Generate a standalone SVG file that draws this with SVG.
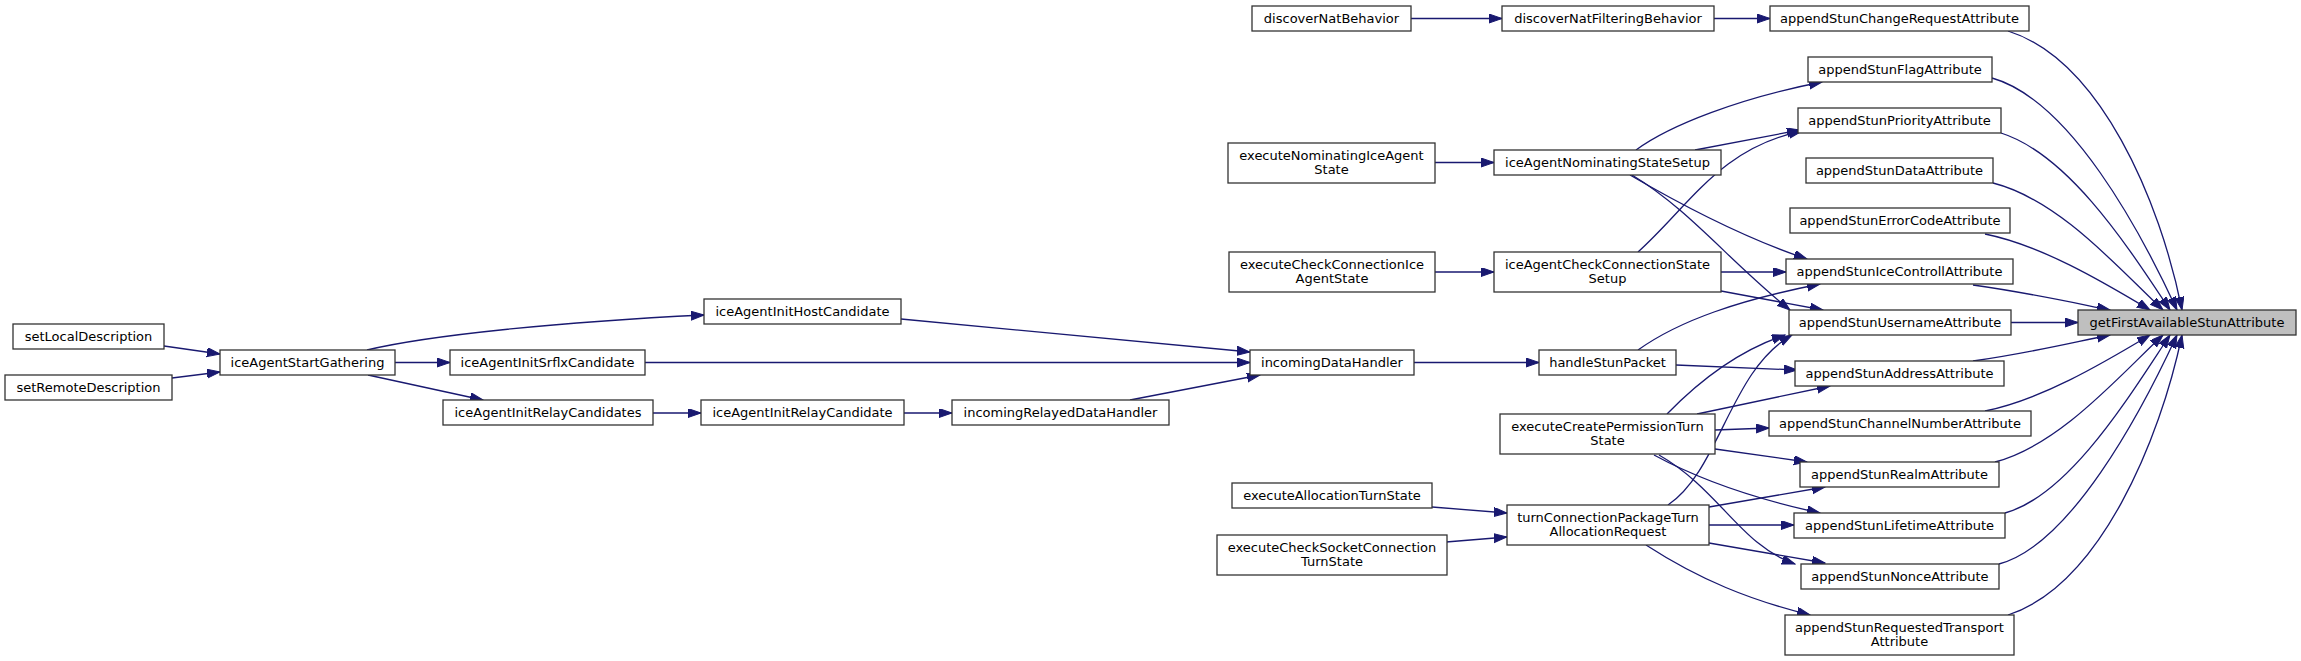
<svg xmlns="http://www.w3.org/2000/svg" width="2301" height="661" viewBox="0 0 2301 661">
<style>
.n rect{fill:#fff;stroke:#333;stroke-width:1.3}
.root rect{fill:#bfbfbf}
.n text{font-family:"DejaVu Sans","Liberation Sans",sans-serif;font-size:13px;fill:#000;text-anchor:middle}
.e path{fill:none;stroke:#191970;stroke-width:1.3;marker-end:url(#ah)}
</style>
<defs>
<marker id="ah" markerUnits="userSpaceOnUse" markerWidth="14" markerHeight="10" refX="13" refY="4.5" orient="auto" viewBox="0 0 14 10">
<path d="M0,0 L13,4.5 L0,9 z" fill="#191970" stroke="#191970" stroke-width="1"/>
</marker>
</defs>
<rect width="2301" height="661" fill="#fff"/>
<g class="e" id="edges">
<path d="M164,346 L220,354"/>
<path d="M172,378 L220,372"/>
<path d="M367,350 C430,335 560,322 704,315"/>
<path d="M395,362.5 L450,362.5"/>
<path d="M368,375 L483,400"/>
<path d="M901,319 L1250,352"/>
<path d="M645,362.5 L1250,362.5"/>
<path d="M653,413 L701,413"/>
<path d="M904,413 L952,413"/>
<path d="M1130,400 L1260,375"/>
<path d="M1414,362.5 L1539,362.5"/>
<path d="M1411,18.5 L1502,18.5"/>
<path d="M1714,18.5 L1770,18.5"/>
<path d="M1435,162.5 L1494,162.5"/>
<path d="M1435,272 L1494,272"/>
<path d="M1636,150 C1670,125 1740,98 1822,82"/>
<path d="M1695,150 L1800,130"/>
<path d="M1638,252 C1690,205 1720,148 1802,131"/>
<path d="M1630,175 C1690,210 1750,240 1807,259"/>
<path d="M1632,175 C1690,210 1730,262 1790,310"/>
<path d="M1721,272 L1786,272"/>
<path d="M1721,291 L1823,310"/>
<path d="M1638,350 C1680,320 1740,300 1820,284"/>
<path d="M1676,365 L1797,370"/>
<path d="M1667,414 C1700,380 1740,350 1785,335"/>
<path d="M1697,414 L1830,386"/>
<path d="M1715,430 L1769,428"/>
<path d="M1715,449 L1807,462"/>
<path d="M1654,455 C1700,480 1760,500 1820,513"/>
<path d="M1659,455 C1720,490 1740,545 1795,564"/>
<path d="M1432,507 L1507,513"/>
<path d="M1446,542 L1507,537"/>
<path d="M1668,505 C1720,470 1730,370 1792,335"/>
<path d="M1709,507 L1825,487"/>
<path d="M1709,525 L1794,525"/>
<path d="M1709,543 L1825,563"/>
<path d="M1646,545 C1700,580 1750,600 1810,615"/>
<path d="M2008,31 C2100,60 2160,200 2182,310"/>
<path d="M1992,78 C2070,100 2140,230 2177,310"/>
<path d="M2001,133 C2070,155 2130,250 2170,310"/>
<path d="M1993,183 C2060,200 2120,270 2163,310"/>
<path d="M1985,234 C2040,245 2100,280 2150,310"/>
<path d="M1973,285 C2030,293 2070,302 2110,310"/>
<path d="M2011,322.5 L2078,322.5"/>
<path d="M1973,361 C2030,353 2070,343 2110,335"/>
<path d="M1985,411 C2040,400 2100,365 2150,335"/>
<path d="M1995,462 C2060,445 2120,375 2163,335"/>
<path d="M2005,513 C2070,495 2130,395 2170,335"/>
<path d="M1999,564 C2070,545 2140,415 2177,335"/>
<path d="M2008,615 C2100,585 2160,440 2182,335"/>
</g>
<g class="n" id="setLocalDescription"><rect x="13" y="324" width="151" height="25"/><text x="88.5" y="341">setLocalDescription</text></g>
<g class="n" id="setRemoteDescription"><rect x="5" y="375" width="167" height="25"/><text x="88.5" y="392">setRemoteDescription</text></g>
<g class="n" id="iceAgentStartGathering"><rect x="220" y="350" width="175" height="25"/><text x="307.5" y="367">iceAgentStartGathering</text></g>
<g class="n" id="iceAgentInitHostCandidate"><rect x="704" y="299" width="197" height="25"/><text x="802.5" y="316">iceAgentInitHostCandidate</text></g>
<g class="n" id="iceAgentInitSrflxCandidate"><rect x="450" y="350" width="195" height="25"/><text x="547.5" y="367">iceAgentInitSrflxCandidate</text></g>
<g class="n" id="iceAgentInitRelayCandidates"><rect x="443" y="400" width="210" height="25"/><text x="548" y="417">iceAgentInitRelayCandidates</text></g>
<g class="n" id="iceAgentInitRelayCandidate"><rect x="701" y="400" width="203" height="25"/><text x="802.5" y="417">iceAgentInitRelayCandidate</text></g>
<g class="n" id="incomingRelayedDataHandler"><rect x="952" y="400" width="217" height="25"/><text x="1060.5" y="417">incomingRelayedDataHandler</text></g>
<g class="n" id="incomingDataHandler"><rect x="1250" y="350" width="164" height="25"/><text x="1332" y="367">incomingDataHandler</text></g>
<g class="n" id="handleStunPacket"><rect x="1539" y="350" width="137" height="25"/><text x="1607.5" y="367">handleStunPacket</text></g>
<g class="n" id="discoverNatBehavior"><rect x="1252" y="6" width="159" height="25"/><text x="1331.5" y="23">discoverNatBehavior</text></g>
<g class="n" id="discoverNatFilteringBehavior"><rect x="1502" y="6" width="212" height="25"/><text x="1608" y="23">discoverNatFilteringBehavior</text></g>
<g class="n" id="executeNominatingIceAgentState"><rect x="1228" y="143" width="207" height="40"/><text x="1331.5" y="159.5">executeNominatingIceAgent</text><text x="1331.5" y="173.5">State</text></g>
<g class="n" id="iceAgentNominatingStateSetup"><rect x="1494" y="150" width="227" height="25"/><text x="1607.5" y="167">iceAgentNominatingStateSetup</text></g>
<g class="n" id="executeCheckConnectionIceAgentState"><rect x="1229" y="252" width="206" height="40"/><text x="1332" y="268.5">executeCheckConnectionIce</text><text x="1332" y="282.5">AgentState</text></g>
<g class="n" id="iceAgentCheckConnectionStateSetup"><rect x="1494" y="252" width="227" height="40"/><text x="1607.5" y="268.5">iceAgentCheckConnectionState</text><text x="1607.5" y="282.5">Setup</text></g>
<g class="n" id="executeCreatePermissionTurnState"><rect x="1500" y="414" width="215" height="40"/><text x="1607.5" y="430.5">executeCreatePermissionTurn</text><text x="1607.5" y="444.5">State</text></g>
<g class="n" id="executeAllocationTurnState"><rect x="1232" y="483" width="200" height="25"/><text x="1332" y="500">executeAllocationTurnState</text></g>
<g class="n" id="executeCheckSocketConnectionTurnState"><rect x="1217" y="535" width="230" height="40"/><text x="1332" y="551.5">executeCheckSocketConnection</text><text x="1332" y="565.5">TurnState</text></g>
<g class="n" id="turnConnectionPackageTurnAllocationRequest"><rect x="1507" y="505" width="202" height="40"/><text x="1608" y="521.5">turnConnectionPackageTurn</text><text x="1608" y="535.5">AllocationRequest</text></g>
<g class="n" id="appendStunChangeRequestAttribute"><rect x="1770" y="6" width="259" height="25"/><text x="1899.5" y="23">appendStunChangeRequestAttribute</text></g>
<g class="n" id="appendStunFlagAttribute"><rect x="1808" y="57" width="184" height="25"/><text x="1900" y="74">appendStunFlagAttribute</text></g>
<g class="n" id="appendStunPriorityAttribute"><rect x="1798" y="108" width="203" height="25"/><text x="1899.5" y="125">appendStunPriorityAttribute</text></g>
<g class="n" id="appendStunDataAttribute"><rect x="1806" y="158" width="187" height="25"/><text x="1899.5" y="175">appendStunDataAttribute</text></g>
<g class="n" id="appendStunErrorCodeAttribute"><rect x="1790" y="208" width="220" height="25"/><text x="1900" y="225">appendStunErrorCodeAttribute</text></g>
<g class="n" id="appendStunIceControllAttribute"><rect x="1786" y="259" width="227" height="25"/><text x="1899.5" y="276">appendStunIceControllAttribute</text></g>
<g class="n" id="appendStunUsernameAttribute"><rect x="1789" y="310" width="222" height="25"/><text x="1900" y="327">appendStunUsernameAttribute</text></g>
<g class="n" id="appendStunAddressAttribute"><rect x="1795" y="361" width="209" height="25"/><text x="1899.5" y="378">appendStunAddressAttribute</text></g>
<g class="n" id="appendStunChannelNumberAttribute"><rect x="1769" y="411" width="262" height="25"/><text x="1900" y="428">appendStunChannelNumberAttribute</text></g>
<g class="n" id="appendStunRealmAttribute"><rect x="1800" y="462" width="199" height="25"/><text x="1899.5" y="479">appendStunRealmAttribute</text></g>
<g class="n" id="appendStunLifetimeAttribute"><rect x="1794" y="513" width="211" height="25"/><text x="1899.5" y="530">appendStunLifetimeAttribute</text></g>
<g class="n" id="appendStunNonceAttribute"><rect x="1801" y="564" width="198" height="25"/><text x="1900" y="581">appendStunNonceAttribute</text></g>
<g class="n" id="appendStunRequestedTransportAttribute"><rect x="1785" y="615" width="229" height="40"/><text x="1899.5" y="631.5">appendStunRequestedTransport</text><text x="1899.5" y="645.5">Attribute</text></g>
<g class="n root" id="getFirstAvailableStunAttribute"><rect x="2078" y="310" width="218" height="25"/><text x="2187" y="327">getFirstAvailableStunAttribute</text></g>
</svg>
